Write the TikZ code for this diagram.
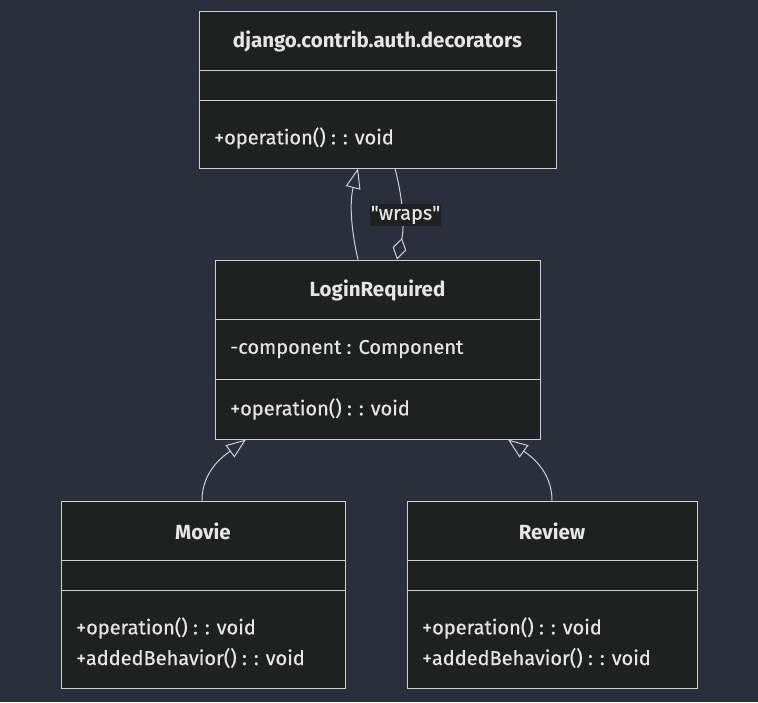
\documentclass[tikz,border=0pt]{standalone}
\usepackage{fontspec}
\setmainfont{Fira Sans}
\newfontfamily\memfont[FakeBold=0.5]{Fira Sans}
\usetikzlibrary{arrows.meta,calc}
\definecolor{bg}{HTML}{2B2F3B}
\definecolor{boxfill}{HTML}{1F2020}
\definecolor{edge}{HTML}{D0D0D0}
\definecolor{txt}{HTML}{E6E6E6}
\tikzset{
  box/.style={draw=edge, fill=boxfill, line width=1pt, inner sep=0pt, rectangle},
  divline/.style={draw=edge, line width=1pt},
  title/.style={font=\fontsize{20.5}{24}\selectfont\bfseries, text=txt, inner sep=0pt},
  member/.style={font=\memfont\fontsize{20}{24}\selectfont, text=txt, inner sep=0pt, anchor=west},
  conn/.style={draw=edge, line width=1pt},
  inh/.style={conn, -{Triangle[open, length=20pt, width=15pt, line width=1pt]}},
  agg/.style={conn, -{Diamond[open, length=22pt, width=14pt, line width=1pt]}},
  lbl/.style={fill=boxfill, text=txt, font=\memfont\fontsize{20}{24}\selectfont, inner xsep=1pt, inner ysep=2pt}
}
\begin{document}
\begin{tikzpicture}[x=1pt, y=-1pt]
\fill[bg] (0,0) rectangle (758,702);
\useasboundingbox (0,0) rectangle (758,702);

% top box
\node[box, minimum width=357pt, minimum height=157pt] (dj) at (377.5,89.5) {};
\draw[divline] ([yshift=-60pt]dj.north west) -- ([yshift=-60pt]dj.north east);
\draw[divline] ([yshift=-90pt]dj.north west) -- ([yshift=-90pt]dj.north east);
\node[title] (djt) at (377.5,41) {django.contrib.auth.decorators};
\node[member] (djo) at (214,138) {+operation() : : void};

% LoginRequired
\node[box, minimum width=325pt, minimum height=179pt] (lr) at (377.5,349.5) {};
\draw[divline] ([yshift=-60pt]lr.north west) -- ([yshift=-60pt]lr.north east);
\draw[divline] ([yshift=-120pt]lr.north west) -- ([yshift=-120pt]lr.north east);
\node[title] (lrt) at (377.5,290) {LoginRequired};
\node[member] (lrc) at (230,349) {-component : Component};
\node[member] (lro) at (230,409) {+operation() : : void};

% Movie
\node[box, minimum width=284pt, minimum height=187pt] (mv) at (203,594.5) {};
\draw[divline] ([yshift=-60pt]mv.north west) -- ([yshift=-60pt]mv.north east);
\draw[divline] ([yshift=-90pt]mv.north west) -- ([yshift=-90pt]mv.north east);
\node[title] (mvt) at (203,531) {Movie};
\node[member] (mvo) at (76,628) {+operation() : : void};
\node[member] (mva) at (76,658) {+addedBehavior() : : void};

% Review
\node[box, minimum width=290pt, minimum height=187pt] (rv) at (552,594.5) {};
\draw[divline] ([yshift=-60pt]rv.north west) -- ([yshift=-60pt]rv.north east);
\draw[divline] ([yshift=-90pt]rv.north west) -- ([yshift=-90pt]rv.north east);
\node[title] (rvt) at (552,531) {Review};
\node[member] (rvo) at (422,628) {+operation() : : void};
\node[member] (rva) at (422,658) {+addedBehavior() : : void};

% connectors
\draw[inh] ([xshift=-19.5pt]lr.north) .. controls (350,225) and (350,200) .. ([xshift=-19.5pt]dj.south);
\draw[agg] ([xshift=17.5pt]dj.south) .. controls (402,195) and (405,225) .. ([xshift=19.5pt]lr.north);
\node[lbl] (wl) at (405.5,215) {\textquotedbl wraps\textquotedbl};
\draw[inh] ([xshift=-1pt]mv.north) .. controls (202,470) and (225,455) .. ([xshift=-131.5pt]lr.south);
\draw[inh] (rv.north) .. controls (552,470) and (529,455) .. ([xshift=130.5pt]lr.south);
\end{tikzpicture}
\end{document}
